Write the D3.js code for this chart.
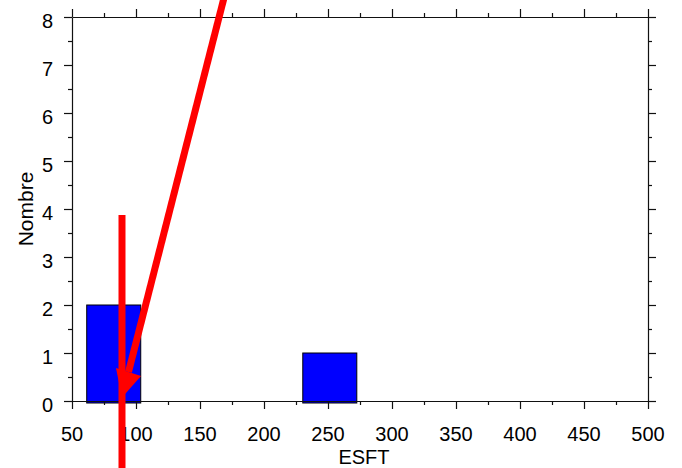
<!DOCTYPE html>
<html>
<head>
<meta charset="utf-8">
<script src="https://cdn.jsdelivr.net/npm/d3@7"></script>
<style>
  html, body { margin: 0; padding: 0; background: #fff; }
  svg { display: block; }
  text { font-family: "Liberation Sans", Arial, sans-serif; fill: #000; }
</style>
</head>
<body>
<svg id="chart" width="682" height="468"></svg>
<script>
// ---- data ----
const binEdges = [61.5, 103.7, 145.9, 188.1, 230.3, 272.5];
const counts = [2, 0, 0, 0, 1];
const xTickValues = [50, 100, 150, 200, 250, 300, 350, 400, 450, 500];
const xMinorTicks = [75, 125, 175, 225, 275, 325, 375, 425, 475];
const yTickValues = [0, 1, 2, 3, 4, 5, 6, 7, 8];
const yMinorTicks = [0.5, 1.5, 2.5, 3.5, 4.5, 5.5, 6.5, 7.5];
const xLabel = "ESFT";
const yLabel = "Nombre";
// red annotation strokes, in data units
const annotLines = [
  { x1: 89.06, y1: 3.875, x2: 89.06, y2: -1.8 },
  { x1: 172.3, y1: 8.77, x2: 94.14, y2: 0.604 }
];
const arrowHead = [
  { x: 84.375, y: 0.6875 },
  { x: 103.9, y: 0.521 },
  { x: 89.06, y: 0.073 }
];

// ---- layout ----
const svg = d3.select("#chart");
const L = 72, R = 648, T = 17, B = 401;
const x = d3.scaleLinear().domain([50, 500]).range([L, R]);
const y = d3.scaleLinear().domain([0, 8]).range([B, T]);

const bins = counts.map((c, i) => ({ x0: binEdges[i], x1: binEdges[i + 1], c }));

// bars
svg.append("g").selectAll("rect")
  .data(bins.filter(d => d.c > 0))
  .join("rect")
  .attr("x", d => x(d.x0))
  .attr("y", d => y(d.c))
  .attr("width", d => x(d.x1) - x(d.x0))
  .attr("height", d => y(0) - y(d.c) + 2)
  .attr("fill", "#0000ff")
  .attr("stroke", "#000")
  .attr("stroke-width", 1);

function styleAxis(g) {
  g.selectAll("path.domain").attr("stroke", "#111").attr("stroke-width", 1.2);
  g.selectAll(".tick line").attr("stroke", "#111").attr("stroke-width", 1.2);
}

// bottom axis
svg.append("g").attr("transform", `translate(0,${B})`)
  .call(d3.axisBottom(x).tickValues(xTickValues).tickSize(8).tickSizeOuter(0).tickFormat(""))
  .call(styleAxis);
svg.append("g").attr("transform", `translate(0,${B})`)
  .call(d3.axisBottom(x).tickValues(xMinorTicks).tickSize(4).tickSizeOuter(0).tickFormat(""))
  .call(g => g.select("path.domain").remove()).call(styleAxis);
// top axis
svg.append("g").attr("transform", `translate(0,${T})`)
  .call(d3.axisTop(x).tickValues(xTickValues).tickSize(8).tickSizeOuter(0).tickFormat(""))
  .call(styleAxis);
svg.append("g").attr("transform", `translate(0,${T})`)
  .call(d3.axisTop(x).tickValues(xMinorTicks).tickSize(4).tickSizeOuter(0).tickFormat(""))
  .call(g => g.select("path.domain").remove()).call(styleAxis);
// left axis
svg.append("g").attr("transform", `translate(${L},0)`)
  .call(d3.axisLeft(y).tickValues(yTickValues).tickSize(8).tickSizeOuter(0).tickFormat(""))
  .call(styleAxis);
svg.append("g").attr("transform", `translate(${L},0)`)
  .call(d3.axisLeft(y).tickValues(yMinorTicks).tickSize(4).tickSizeOuter(0).tickFormat(""))
  .call(g => g.select("path.domain").remove()).call(styleAxis);
// right axis
svg.append("g").attr("transform", `translate(${R},0)`)
  .call(d3.axisRight(y).tickValues(yTickValues).tickSize(8).tickSizeOuter(0).tickFormat(""))
  .call(styleAxis);
svg.append("g").attr("transform", `translate(${R},0)`)
  .call(d3.axisRight(y).tickValues(yMinorTicks).tickSize(4).tickSizeOuter(0).tickFormat(""))
  .call(g => g.select("path.domain").remove()).call(styleAxis);

// tick labels
svg.append("g").selectAll("text")
  .data(xTickValues).join("text")
  .attr("x", d => x(d)).attr("y", B + 40)
  .attr("text-anchor", "middle").attr("font-size", 20)
  .text(d => d);
svg.append("g").selectAll("text")
  .data(yTickValues).join("text")
  .attr("x", L - 19).attr("y", d => y(d) + 10.5)
  .attr("text-anchor", "end").attr("font-size", 20)
  .text(d => d);

// axis titles
svg.append("text")
  .attr("x", (L + R) / 2 + 4).attr("y", 463.5)
  .attr("text-anchor", "middle").attr("font-size", 20)
  .text(xLabel);
svg.append("text")
  .attr("transform", `translate(33,${(T + B) / 2}) rotate(-90)`)
  .attr("text-anchor", "middle").attr("font-size", 21)
  .text(yLabel);

// red annotations
svg.append("g").selectAll("line")
  .data(annotLines).join("line")
  .attr("x1", d => x(d.x1)).attr("y1", d => y(d.y1))
  .attr("x2", d => x(d.x2)).attr("y2", d => y(d.y2))
  .attr("stroke", "#ff0000").attr("stroke-width", 7);
svg.append("path")
  .attr("d", d3.line().x(d => x(d.x)).y(d => y(d.y))(arrowHead) + "Z")
  .attr("fill", "#ff0000")
  .attr("stroke", "none");
</script>
</body>
</html>
